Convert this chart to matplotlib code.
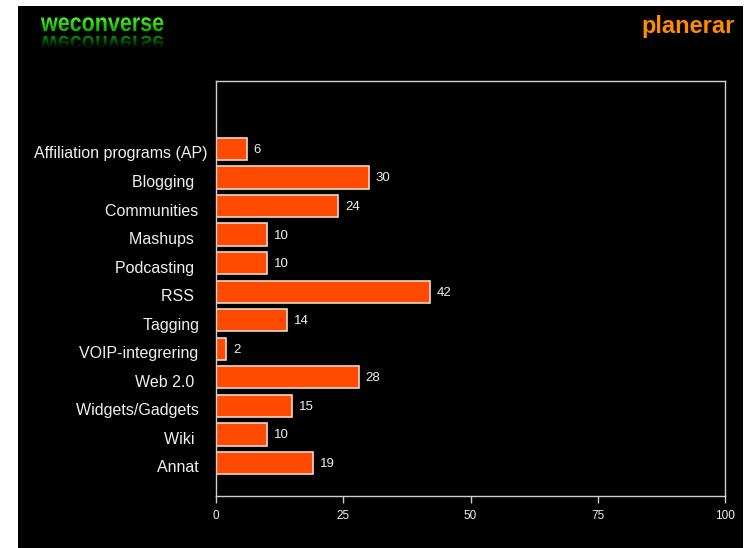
import matplotlib
matplotlib.use('Agg')
import matplotlib.pyplot as plt
import numpy as np
from matplotlib.textpath import TextPath
from matplotlib.patches import PathPatch, Rectangle
from matplotlib.font_manager import FontProperties
from matplotlib.transforms import Affine2D, ScaledTranslation
from matplotlib.colors import to_rgb

plt.rcParams['font.family'] = ['Liberation Sans', 'DejaVu Sans']

# data
categories = ['Affiliation programs (AP)', 'Blogging   ', 'Communities  ', 'Mashups   ',
              'Podcasting   ', 'RSS   ', 'Tagging  ', 'VOIP-integrering  ', 'Web 2.0   ',
              'Widgets/Gadgets  ', 'Wiki   ', 'Annat  ']
values = [6, 30, 24, 10, 10, 42, 14, 2, 28, 15, 10, 19]
xticks = [0, 25, 50, 75, 100]
brand = 'weconverse'
title = 'planerar'

W, H = 748, 548
fig = plt.figure(figsize=(W / 100, H / 100), dpi=100, facecolor='white')

# background layer in pixel coordinates
bg = fig.add_axes([0, 0, 1, 1], zorder=0)
bg.add_patch(Rectangle((18, 6), 725, 548, facecolor='black', edgecolor='none', zorder=0))


def gradient_text(ax, s, x, y, size, c_top, c_bot, sy):
    fp = FontProperties(family='Liberation Sans', weight='bold')
    tp = TextPath((0, 0), s, size=size, prop=fp)
    path = Affine2D().scale(1, sy).translate(x, y).transform_path(tp)
    patch = PathPatch(path, facecolor='none', edgecolor='none')
    ax.add_patch(patch)
    ext = path.get_extents()
    t, b = np.array(to_rgb(c_top)), np.array(to_rgb(c_bot))
    k = np.linspace(0, 1, 64)[:, None]
    grad = (t * (1 - k) + b * k)[:, None, :]
    im = ax.imshow(grad, extent=[ext.x0, ext.x1, ext.y1, ext.y0], aspect='auto',
                   interpolation='bilinear', origin='upper', zorder=3)
    im.set_clip_path(patch)


gradient_text(bg, brand, 41, 31, 21.5, '#4cf522', '#0cb000', -1.18)
gradient_text(bg, brand, 41, 36, 21.5, '#00a000', '#000000', 1.05)
bg.set_xlim(0, W)
bg.set_ylim(H, 0)
bg.axis('off')
bg.text(735, 33, title, ha='right', va='baseline', color='#ff8c00',
        fontsize=17, fontweight='bold', zorder=3)

# chart
ax = fig.add_axes([216 / W, 1 - 496 / H, (725 - 216) / W, (496 - 81) / H], zorder=1)
ax.set_facecolor('black')
y = np.arange(len(categories))
ax.barh(y, values, height=0.78, color='#ff4a00', edgecolor='#f2d6cc', linewidth=1.2)
ax.set_xlim(0, 100)
ax.set_ylim(len(categories) - 1 + 1.156, -2.38)
ax.set_xticks(xticks)
ax.set_yticks(y, categories)
ax.tick_params(axis='y', length=0, pad=6, colors='#f0f0f0', labelsize=11.5)
ax.tick_params(axis='x', length=5, width=1, color='#cccccc', labelcolor='#f0f0f0',
               labelsize=8.5, pad=5)
shift = ScaledTranslation(0, -3.5 / 100, fig.dpi_scale_trans)
for lbl in ax.get_yticklabels():
    lbl.set_transform(lbl.get_transform() + shift)
for sp in ax.spines.values():
    sp.set_color('#d0d0d0')
    sp.set_linewidth(1)
for yi, v in zip(y, values):
    ax.annotate(str(v), (v, yi), xytext=(5, -0.7), textcoords='offset points',
                va='center', ha='left', color='#f0f0f0', fontsize=9.5)

fig.savefig('out.png', dpi=100, facecolor='white')
